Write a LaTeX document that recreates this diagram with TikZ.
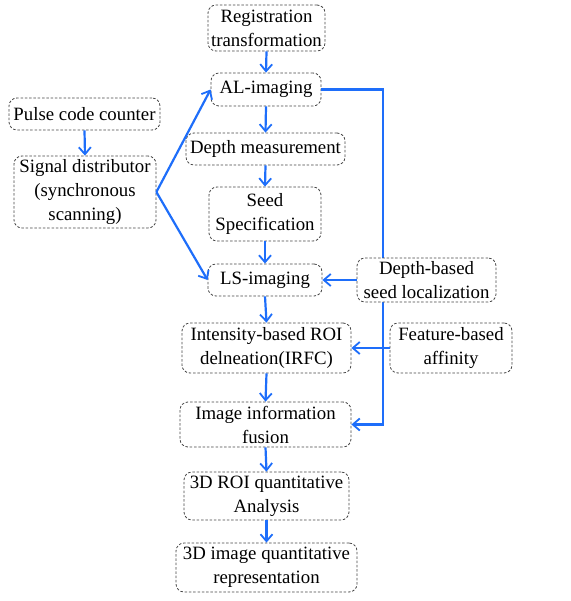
\documentclass[tikz,border=0pt]{standalone}
\usepackage{fontspec}
\setmainfont{Liberation Serif}
\usetikzlibrary{arrows.meta}
\definecolor{arrblue}{RGB}{30,110,250}
\definecolor{boxgray}{RGB}{70,70,70}
\tikzset{
  box/.style={draw=boxgray, dash pattern=on 2.5pt off 1.8pt, line width=0.8pt, rounded corners=8pt,
    fill=white, align=center, inner sep=0pt, font=\fontsize{18.8}{24}\selectfont},
  arr/.style={draw=arrblue, line width=2.2pt, -{Straight Barb[length=7pt,width=12pt,line width=1.8pt]}},
}
\begin{document}
\begin{tikzpicture}[x=1pt,y=-1pt]
\useasboundingbox (0,0) rectangle (570,601);
\node[box, minimum width=117pt, minimum height=46pt] (reg) at (266.5,28) {Registration\\transformation};
\node[box, minimum width=110pt, minimum height=33pt] (al) at (266,89.5) {AL-imaging};
\node[box, minimum width=159pt, minimum height=32pt] (depth) at (265.5,149) {Depth measurement};
\node[box, minimum width=112pt, minimum height=54pt] (seed) at (265,214) {Seed\\Specification};
\node[box, minimum width=114pt, minimum height=32pt] (ls) at (265,280) {LS-imaging};
\node[box, minimum width=151pt, minimum height=32pt] (pulse) at (84.5,114) {Pulse code counter};
\node[box, minimum width=142pt, minimum height=72pt] (signal) at (85,192) {Signal distributor\\(synchronous\\scanning)};
\node[box, minimum width=169pt, minimum height=50pt] (irfc) at (266.5,348) {Intensity-based ROI\\delneation(IRFC)};
\node[box, minimum width=122pt, minimum height=50pt] (feat) at (451,348) {Feature-based\\affinity};
\node[box, minimum width=171pt, minimum height=45pt] (fusion) at (265.5,424.5) {Image information\\fusion};
\node[box, minimum width=165pt, minimum height=48pt] (roi) at (266.5,496) {3D ROI quantitative\\Analysis};
\node[box, minimum width=181pt, minimum height=49pt] (rep) at (266.5,567.5) {3D image quantitative\\representation};

\coordinate (c1) at (383,89.5);
\coordinate (c2) at (383,424.5);
\draw[arr] (al.east) -- (c1) -- (c2) -- (fusion.east);

\node[box, minimum width=139pt, minimum height=44pt] (dbsl) at (426.5,280) {Depth-based\\seed localization};

\draw[arr] (reg.south) -- (al.north);
\draw[arr] (al.south) -- (depth.north);
\draw[arr] (depth.south) -- (seed.north);
\draw[arr] (seed.south) -- (ls.north);
\draw[arr] (ls.south) -- (irfc.north);
\draw[arr] (irfc.south) -- (fusion.north);
\draw[arr] (fusion.south) -- (roi.north);
\draw[arr] (roi.south) -- (rep.north);
\draw[arr] (pulse.south) -- (signal.north);
\draw[arr] (signal.east) -- (al.west);
\draw[arr] (signal.east) -- (ls.west);
\draw[arr] (dbsl.west) -- (ls.east);
\draw[arr] (feat.west) -- (irfc.east);
\end{tikzpicture}
\end{document}
